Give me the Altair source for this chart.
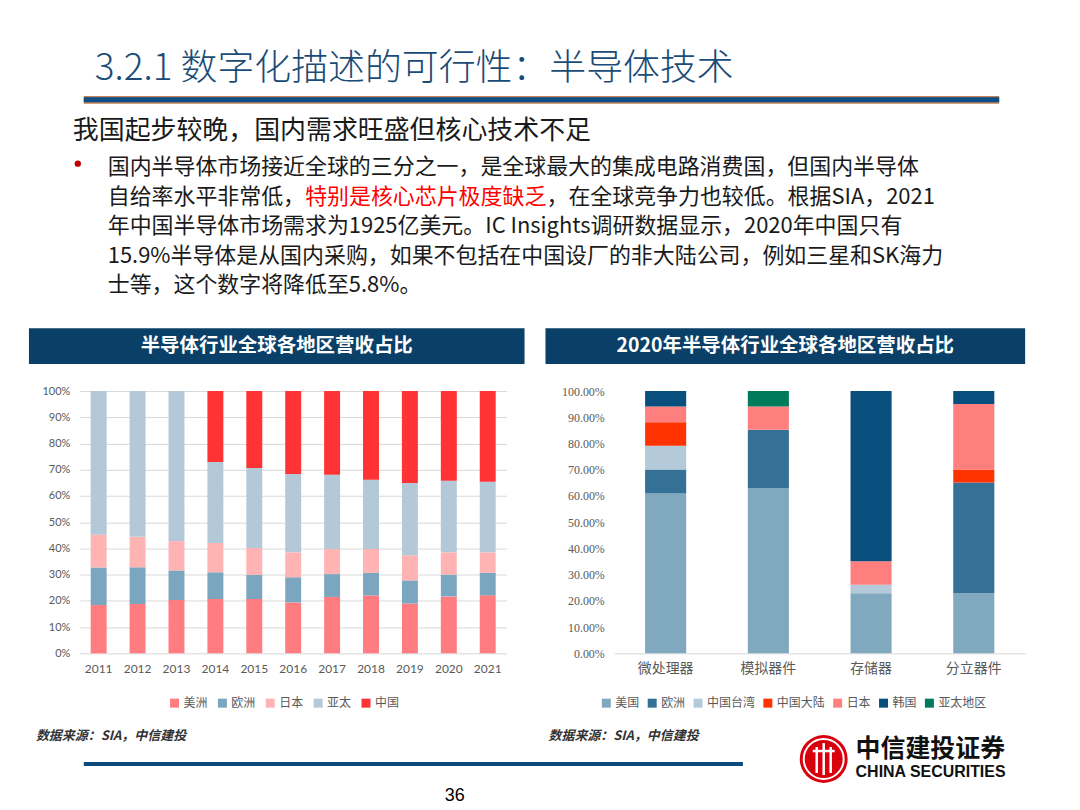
import altair as alt
import pandas as pd

# ---------------- data: left chart (share of global revenue by region) ----------------
years = ["2011", "2012", "2013", "2014", "2015", "2016", "2017", "2018", "2019", "2020", "2021"]
regions_l = ["美洲", "欧洲", "日本", "亚太", "中国"]
americas = [18.4, 18.8, 20.3, 20.7, 20.7, 19.4, 21.5, 22.1, 19.0, 21.7, 22.1]
europe = [14.3, 14.0, 11.3, 10.2, 9.2, 9.6, 8.7, 8.6, 8.8, 8.3, 8.6]
japan = [12.5, 11.6, 11.2, 11.2, 10.3, 9.5, 9.6, 9.1, 9.6, 8.5, 7.8]
apac = [54.8, 55.6, 57.2, 30.8, 30.5, 29.9, 28.3, 26.4, 27.5, 27.3, 26.9]
china = [0.0, 0.0, 0.0, 27.1, 29.3, 31.6, 31.9, 33.8, 35.1, 34.2, 34.6]
colors_l = ["#FF7C80", "#7BA6BF", "#FFB3B3", "#B4C9D8", "#FF3333"]

# ---------------- data: right chart (2020, by product) ----------------
products = ["微处理器", "模拟器件", "存储器", "分立器件"]
regions_r = ["美国", "欧洲", "中国台湾", "中国大陆", "日本", "韩国", "亚太地区"]
us = [60.9, 63.0, 22.9, 22.9]
eu = [9.2, 22.2, 0.0, 42.2]
tw = [9.0, 0.0, 3.2, 0.0]
cn = [9.0, 0.0, 0.0, 5.0]
jp = [6.0, 8.9, 9.0, 25.0]
kr = [5.9, 0.0, 64.9, 4.9]
ap = [0.0, 5.9, 0.0, 0.0]
colors_r = ["#80A9BF", "#357097", "#B5CAD8", "#FF3300", "#FF7F7F", "#084F7E", "#007A5A"]

# ---------------- slide texts ----------------
title_txt = "3.2.1 数字化描述的可行性：半导体技术"
subtitle_txt = "我国起步较晚，国内需求旺盛但核心技术不足"
para_line1 = "国内半导体市场接近全球的三分之一，是全球最大的集成电路消费国，但国内半导体"
para_line2a = "自给率水平非常低，"
para_line2b = "特别是核心芯片极度缺乏"
para_line2c = "，在全球竞争力也较低。根据SIA，2021"
para_line3 = "年中国半导体市场需求为1925亿美元。IC Insights调研数据显示，2020年中国只有"
para_line4 = "15.9%半导体是从国内采购，如果不包括在中国设厂的非大陆公司，例如三星和SK海力"
para_line5 = "士等，这个数字将降低至5.8%。"
left_title = "半导体行业全球各地区营收占比"
right_title = "2020年半导体行业全球各地区营收占比"
source_txt = "数据来源：SIA，中信建投"
page_no = "36"
logo_cn = "中信建投证券"
logo_en = "CHINA SECURITIES"

CJK = "Noto Sans CJK SC"

# ---------------- build long tables ----------------
rows = []
for series_idx, (name, vals) in enumerate(zip(regions_l, [americas, europe, japan, apac, china])):
    for y, v in zip(years, vals):
        if v > 0:
            rows.append({"year": y, "region_l": name, "share": v / 100.0, "idx": series_idx})
df_l = pd.DataFrame(rows)

rows = []
for series_idx, (name, vals) in enumerate(zip(regions_r, [us, eu, tw, cn, jp, kr, ap])):
    for p, v in zip(products, vals):
        if v > 0:
            rows.append({"product": p, "region_r": name, "share": v / 100.0, "idx": series_idx})
df_r = pd.DataFrame(rows)

tick_vals = [i / 10 for i in range(11)]

# ---------------- left chart ----------------
left = alt.Chart(df_l).mark_bar().encode(
    x=alt.X("year:N", sort=years,
            scale=alt.Scale(paddingInner=0.59, paddingOuter=0.28),
            axis=alt.Axis(title=None, labelAngle=0, ticks=False, tickSize=0, domain=False, grid=False,
                          labelFont="Lato", labelFontSize=12, labelColor="#595959", labelPadding=10)),
    y=alt.Y("share:Q", stack="zero", scale=alt.Scale(domain=[0, 1], nice=False),
            axis=alt.Axis(title=None, format=".0%", values=tick_vals, grid=True, gridColor="#D9D9D9",
                          domain=False, ticks=False, tickSize=0, labelPadding=10,
                          labelFont="Lato", labelFontSize=11, labelColor="#595959")),
    color=alt.Color("region_l:N", scale=alt.Scale(domain=regions_l, range=colors_l),
                    legend=alt.Legend(title=None, orient="none", legendX=89, legendY=307,
                                      direction="horizontal", symbolType="square", symbolSize=81,
                                      symbolStrokeWidth=0, labelFont=CJK, labelFontSize=12,
                                      labelColor="#595959", columnPadding=8, labelOffset=3)),
    order=alt.Order("idx:Q"),
).properties(width=428, height=263)

# ---------------- right chart ----------------
right = alt.Chart(df_r).mark_bar().encode(
    x=alt.X("product:N", sort=products,
            scale=alt.Scale(paddingInner=0.6, paddingOuter=0.3),
            axis=alt.Axis(title=None, labelAngle=0, ticks=False, tickSize=0, domain=True,
                          domainColor="#D9D9D9", grid=False,
                          labelFont=CJK, labelFontSize=14, labelColor="#595959", labelPadding=8)),
    y=alt.Y("share:Q", stack="zero", scale=alt.Scale(domain=[0, 1], nice=False),
            axis=alt.Axis(title=None, format=".2%", values=tick_vals, grid=False,
                          domain=False, ticks=False, tickSize=0, labelPadding=10,
                          labelFont="Liberation Serif", labelFontSize=12, labelColor="#595959")),
    color=alt.Color("region_r:N", scale=alt.Scale(domain=regions_r, range=colors_r),
                    legend=alt.Legend(title=None, orient="none", legendX=-14, legendY=307,
                                      direction="horizontal", symbolType="square", symbolSize=81,
                                      symbolStrokeWidth=0, labelFont=CJK, labelFontSize=12,
                                      labelColor="#595959", columnPadding=6, labelOffset=3)),
    order=alt.Order("idx:Q"),
).properties(width=412, height=263)

# ---------------- decorations (slide layer) ----------------
dummy = pd.DataFrame({"k": [0]})
base = alt.Chart(dummy)


def rect(x1, x2, y1, y2, color):
    return base.mark_rect(color=color).encode(
        x=alt.value(x1), x2=alt.value(x2), y=alt.value(y1), y2=alt.value(y2))


def text(s, x, y, size, color="#1a1a1a", align="left", font=CJK, weight="normal", style="normal"):
    return base.mark_text(align=align, baseline="middle", font=font, fontSize=size, color=color,
                          fontWeight=weight, fontStyle=style).encode(
        x=alt.value(x), y=alt.value(y), text=alt.value(s))


P = 22  # paragraph font size
layers = [
    rect(0, 1064, 0, 794, "white"),
    text(title_txt, 84, 60, 37, color="#1B4B77", weight=300),
    rect(73, 991, 87, 95, "#C0805A"),
    rect(73, 991, 88.5, 93.5, "#0B4F86"),
    text(subtitle_txt, 62, 122, 26),
    base.mark_point(filled=True, color="#C00000", size=40, opacity=1).encode(
        x=alt.value(67), y=alt.value(155)),
    text(para_line1, 97, 158, P),
    text(para_line2a, 97, 188, P),
    text(para_line2b, 97 + 9 * P, 188, P, color="#FF0000"),
    text(para_line2c, 97 + 20 * P, 188, P),
    text(para_line3, 97, 218, P),
    text(para_line4, 97, 248, P),
    text(para_line5, 97, 277, P),
    rect(18, 515, 320, 356, "#0A3F68"),
    rect(536, 1017, 320, 356, "#0A3F68"),
    text(left_title, 266.5, 338, 19.5, color="white", align="center", weight="bold"),
    text(right_title, 776.5, 338, 19.5, color="white", align="center", weight="bold"),
    text(source_txt, 25, 729, 13, color="#333333", weight="bold", style="italic"),
    text(source_txt, 539, 729, 13, color="#333333", weight="bold", style="italic"),
    rect(73, 734, 755, 759, "#0B4A7A"),
    text(page_no, 445, 789, 18, color="#000000", align="center", font="Liberation Sans"),
    # logo
    base.mark_point(filled=True, color="#D9000D", size=2304, opacity=1).encode(
        x=alt.value(815), y=alt.value(752)),
    base.mark_point(filled=False, color="white", size=1600, strokeWidth=2, opacity=1).encode(
        x=alt.value(815), y=alt.value(752)),
    base.mark_rule(color="white", strokeWidth=2.5).encode(
        x=alt.value(808), y=alt.value(740), y2=alt.value(766)),
    base.mark_rule(color="white", strokeWidth=2.5).encode(
        x=alt.value(815), y=alt.value(736), y2=alt.value(768)),
    base.mark_rule(color="white", strokeWidth=2.5).encode(
        x=alt.value(822), y=alt.value(740), y2=alt.value(766)),
    base.mark_rule(color="white", strokeWidth=2.5).encode(
        x=alt.value(804), x2=alt.value(826), y=alt.value(744)),
    text(logo_cn, 847, 742, 25, color="#111111", weight="bold"),
    text(logo_en, 847, 765, 16, color="#111111", weight="bold", font="Liberation Sans"),
]
header = alt.layer(*layers).properties(width=1064, height=383)


def spacer(w):
    return base.mark_point(opacity=0).encode(x=alt.value(0), y=alt.value(0)).properties(width=w, height=263)


row = alt.hconcat(spacer(69), left, spacer(108), right, spacing=0, bounds="flush").resolve_scale(
    color="independent").resolve_legend(color="independent")

chart = alt.vconcat(header, row, spacing=0, bounds="flush").properties(
    padding=0, background="white"
).resolve_scale(color="independent").resolve_legend(color="independent").configure_view(stroke=None)

chart.save("out.html", embed_options={"renderer": "svg", "actions": False})
